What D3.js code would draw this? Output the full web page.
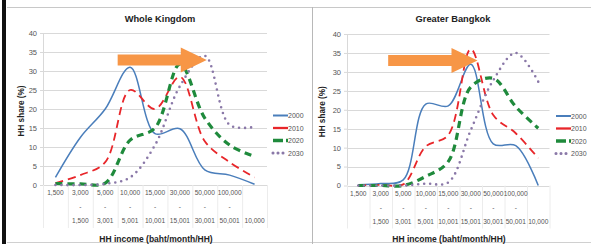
<!DOCTYPE html>
<html>
<head>
<meta charset="utf-8">
<script src="https://cdn.jsdelivr.net/npm/d3@7"></script>
<style>
  body { margin: 0; background: #fff; }
  text { font-family: "Liberation Sans", Arial, sans-serif; }
</style>
</head>
<body>
<div id="chart"></div>
<script>
// categories (income bands) - three text rows each
var cats = ["c1", "c2", "c3", "c4", "c5", "c6", "c7", "c8", "c9"];
var labelTop = ["1,500", "3,000", "5,000", "10,000", "15,000", "30,000", "50,000", "100,000", ""];
var labelMid = ["", "-", "-", "-", "-", "-", "-", "-", ""];
var labelBot = ["", "1,500", "3,001", "5,001", "10,001", "15,001", "30,001", "50,001", "10,000"];
var years = ["2000", "2010", "2020", "2030"];
var yTicks = [0, 5, 10, 15, 20, 25, 30, 35, 40];

// HH share (%) - Whole Kingdom
var wk2000 = [2, 12.5, 20, 31, 13.5, 14.8, 4, 2.6, 0.2];
var wk2010 = [0.5, 2.6, 6, 25, 20, 28.5, 11.5, 6, 2];
var wk2020 = [0.4, 0.3, 0.5, 11.8, 15, 31.8, 17.6, 10.5, 7.5];
var wk2030 = [0, 0, 0.3, 2, 10.5, 26, 34, 15.8, 15.3];

// HH share (%) - Greater Bangkok
var gb2000 = [0.2, 0.5, 1.5, 21.5, 21, 32, 11, 10.5, 0];
var gb2010 = [0, 0.2, 0.3, 10.3, 13.3, 36, 18.6, 13.8, 7.2];
var gb2020 = [0, 0, 0, 2.4, 6.3, 26, 28.3, 20.8, 15.1];
var gb2030 = [0, 0, 0, 0.5, 0.8, 14.6, 27.8, 35, 27.4];

// arrow annotations in data units (category index, value)
var wkArrow = {from: 2.5, to: 6.08, value: 32.9};
var gbArrow = {from: 1.33, to: 5.3, value: 33};

var W = 591, H = 244;
var colors = {"2000": "#4a7ebb", "2010": "#e8262a", "2020": "#1f8a3c", "2030": "#8a78a8"};
var styles = {
  "2000": {w: 1.5, dash: null, cap: "butt"},
  "2010": {w: 1.8, dash: "8,5", cap: "butt"},
  "2020": {w: 3.2, dash: "7,5", cap: "butt"},
  "2030": {w: 2.6, dash: "0,6", cap: "round"}
};

var svg = d3.select("#chart").append("svg")
  .attr("width", W).attr("height", H);

svg.append("rect").attr("width", W).attr("height", H).attr("fill", "#fff");
// frame
svg.append("line").attr("x1", 7).attr("x2", W).attr("y1", 7.5).attr("y2", 7.5)
  .attr("stroke", "#c8c8c8");
svg.append("line").attr("x1", 7).attr("x2", W).attr("y1", 242.5).attr("y2", 242.5)
  .attr("stroke", "#d0d0d0");
svg.append("rect").attr("x", 2).attr("y", 0).attr("width", 4).attr("height", H).attr("fill", "#111");
svg.append("line").attr("x1", 312.5).attr("x2", 312.5).attr("y1", 7).attr("y2", H)
  .attr("stroke", "#b8b8b8");

function drawPanel(p) {
  var g = svg.append("g");
  var x = d3.scalePoint().domain(cats).range([p.left, p.right]).padding(0.5);
  var y = d3.scaleLinear().domain([0, 40]).range([p.bottom, p.top]);

  // grid
  g.selectAll(".grid").data(yTicks).enter().append("line")
    .attr("x1", p.left).attr("x2", p.right)
    .attr("y1", function(d) { return Math.round(y(d)) + 0.5; })
    .attr("y2", function(d) { return Math.round(y(d)) + 0.5; })
    .attr("stroke", "#d9d9d9").attr("stroke-width", 1);
  g.append("line").attr("x1", p.left + 0.5).attr("x2", p.left + 0.5)
    .attr("y1", y(40)).attr("y2", y(0)).attr("stroke", "#d9d9d9");

  // y axis
  g.append("g").attr("transform", "translate(" + p.left + ",0)")
    .call(d3.axisLeft(y).tickValues(yTicks).tickSize(3).tickPadding(3))
    .call(function(a) {
      a.select(".domain").remove();
      a.selectAll(".tick line").attr("stroke", "#d9d9d9");
      a.selectAll("text").attr("font-size", 7.5).attr("fill", "#555")
        .style("font-family", "Liberation Sans, Arial, sans-serif");
    });

  // category label boxes
  var step = x.step();
  g.selectAll(".sep").data(d3.range(cats.length + 1)).enter().append("line")
    .attr("x1", function(i) { return p.left + i * step + 0.5; })
    .attr("x2", function(i) { return p.left + i * step + 0.5; })
    .attr("y1", p.bottom).attr("y2", p.bottom + 43)
    .attr("stroke", "#ececec");

  var rows = [[labelTop, 10], [labelMid, 24], [labelBot, 38]];
  rows.forEach(function(r) {
    g.selectAll(null).data(cats).enter().append("text")
      .attr("x", function(d) { return x(d); })
      .attr("y", p.bottom + r[1])
      .attr("text-anchor", "middle")
      .attr("font-size", 6.6).attr("fill", "#555")
      .text(function(d, i) { return r[0][i]; });
  });

  // lines
  var line = d3.line()
    .x(function(d, i) { return x(cats[i]); })
    .y(function(d) { return y(d); })
    .curve(d3.curveCatmullRom.alpha(0.5));

  years.forEach(function(yr, k) {
    var s = styles[yr];
    g.append("path").datum(p.series[k])
      .attr("d", line)
      .attr("fill", "none")
      .attr("stroke", colors[yr])
      .attr("stroke-width", s.w)
      .attr("stroke-dasharray", s.dash)
      .attr("stroke-linecap", s.cap);
  });

  // legend
  years.forEach(function(yr, k) {
    var s = styles[yr];
    var ly = p.legendY + k * 12.5;
    g.append("line")
      .attr("x1", p.legendX).attr("x2", p.legendX + 15)
      .attr("y1", ly).attr("y2", ly)
      .attr("stroke", colors[yr]).attr("stroke-width", s.w + 0.5)
      .attr("stroke-dasharray", yr === "2030" ? "0,5" : (yr === "2020" ? "10,3" : null))
      .attr("stroke-linecap", s.cap);
    g.append("text").attr("x", p.legendX + 15).attr("y", ly + 2.5)
      .attr("font-size", 7).attr("fill", "#555").text(yr);
  });

  // arrow
  var a = p.arrow;
  var x0 = x(cats[0]) + a.from * step;
  var x1 = x(cats[0]) + a.to * step;
  var ay = y(a.value);
  var head = 26, bh = 5.5, hh = 12.5;
  g.append("path")
    .attr("d", "M" + x0 + "," + (ay - bh) + "L" + (x1 - head) + "," + (ay - bh) +
      "L" + (x1 - head) + "," + (ay - hh) + "L" + x1 + "," + ay +
      "L" + (x1 - head) + "," + (ay + hh) + "L" + (x1 - head) + "," + (ay + bh) +
      "L" + x0 + "," + (ay + bh) + "Z")
    .attr("fill", "#f79646");

  // titles
  g.append("text").attr("x", p.titleX).attr("y", 22)
    .attr("text-anchor", "middle").attr("font-size", 9.3).attr("font-weight", "bold")
    .attr("fill", "#222").text(p.title);
  g.append("text").attr("x", p.titleX - 4).attr("y", 242)
    .attr("text-anchor", "middle").attr("font-size", 8.5).attr("font-weight", "bold")
    .attr("fill", "#222").text("HH income (baht/month/HH)");
  g.append("text")
    .attr("transform", "translate(" + p.yTitleX + "," + (y(20) + 2) + ")rotate(-90)")
    .attr("text-anchor", "middle").attr("font-size", 8.2).attr("font-weight", "bold")
    .attr("fill", "#222").text("HH share (%)");
}

drawPanel({
  title: "Whole Kingdom", titleX: 160, yTitleX: 24,
  left: 43, right: 267, top: 33, bottom: 185,
  series: [wk2000, wk2010, wk2020, wk2030],
  legendX: 273, legendY: 115.5, arrow: wkArrow
});
drawPanel({
  title: "Greater Bangkok", titleX: 453, yTitleX: 325,
  left: 347, right: 549.5, top: 34, bottom: 185.5,
  series: [gb2000, gb2010, gb2020, gb2030],
  legendX: 556, legendY: 116, arrow: gbArrow
});
</script>
</body>
</html>
